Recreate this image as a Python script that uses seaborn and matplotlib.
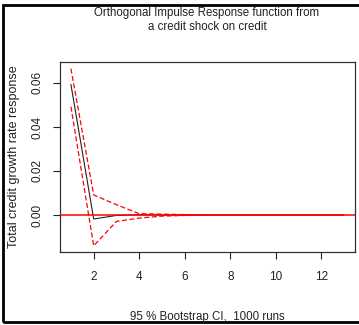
import numpy as np
import pandas as pd
import seaborn as sns
import matplotlib.pyplot as plt
from matplotlib.patches import Rectangle

# impulse response horizon and values
horizon = list(range(1, 14))
irf = [0.0593, -0.0018, -0.0002, 0.0001, 0.0000, 0.0000, 0.0000,
       0.0000, 0.0000, 0.0000, 0.0000, 0.0000, 0.0000]
upper = [0.0665, 0.0091, 0.0047, 0.0006, 0.0004, 0.0002, 0.0001,
         0.0000, 0.0000, 0.0000, 0.0000, 0.0000, 0.0000]
lower = [0.0492, -0.0140, -0.0029, -0.0014, -0.0005, -0.0002, -0.0001,
         0.0000, 0.0000, 0.0000, 0.0000, 0.0000, 0.0000]
xticks = [2, 4, 6, 8, 10, 12]
yticks = [0.00, 0.02, 0.04, 0.06]

sns.set_style("white")
plt.rcParams['font.family'] = ['Liberation Sans', 'DejaVu Sans']

df = pd.DataFrame({"h": horizon, "irf": irf, "upper": upper, "lower": lower})

fig = plt.figure(figsize=(3.59, 3.25), dpi=100)
ax = fig.add_axes([60 / 359, 73 / 325, 295 / 359, 190 / 325])

sns.lineplot(data=df, x="h", y="irf", ax=ax, color="#222222", lw=0.8, zorder=1)
sns.lineplot(data=df, x="h", y="upper", ax=ax, color="red", lw=0.9,
             linestyle=(0, (4, 2)), zorder=2)
sns.lineplot(data=df, x="h", y="lower", ax=ax, color="red", lw=0.9,
             linestyle=(0, (4, 2)), zorder=2)
ax.axhline(0, color="red", lw=1.1, zorder=3)

ax.set_xlim(0.52, 13.48)
ax.set_ylim(-0.0168, 0.0695)
ax.set_xticks(xticks)
ax.set_yticks(yticks)
ax.set_yticklabels([f"{v:.2f}" for v in yticks], rotation=90, va="center")
ax.tick_params(axis="both", direction="out", length=5, width=0.8,
               labelsize=8.5, colors="#222222", pad=7, left=True, bottom=True)
ax.tick_params(axis="x", pad=9)
for s in ax.spines.values():
    s.set_color("#333333")
    s.set_linewidth(0.9)

ax.set_xlabel("")
ax.set_ylabel("Total credit growth rate response", fontsize=9, color="#222222")
ax.yaxis.set_label_coords(-40 / 295, 0.5)

fig.text(207 / 359, 1 - 13 / 325, "Orthogonal Impulse Response function from",
         ha="center", va="center", fontsize=8.3, color="#222222")
fig.text(207 / 359, 1 - 27 / 325, "a credit shock on credit",
         ha="center", va="center", fontsize=8.3, color="#222222")
fig.text(207 / 359, 1 - 317 / 325, "95 % Bootstrap CI,  1000 runs",
         ha="center", va="center", fontsize=8.3, color="#222222")

# outer frame
fig.patches.append(Rectangle((3 / 359, 3 / 325), 1.1, 1 - 8 / 325,
                             transform=fig.transFigure, fill=False,
                             edgecolor="black", lw=2, clip_on=False))

fig.savefig("out.png", dpi=100)
